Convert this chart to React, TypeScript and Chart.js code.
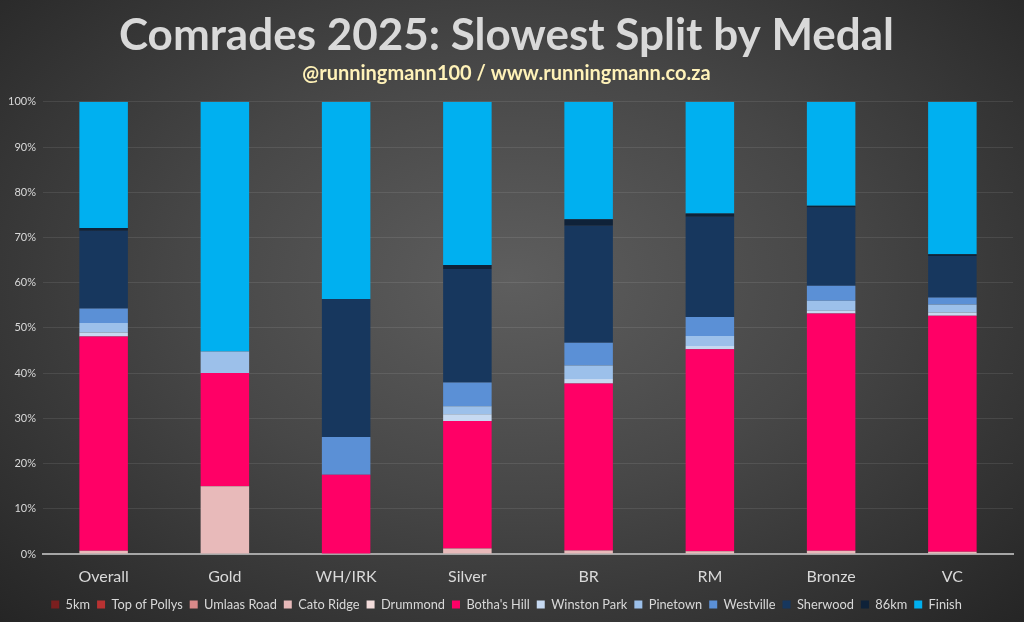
import React, { useEffect, useRef } from 'react';
import Chart, { ChartConfiguration } from 'chart.js/auto';

const categories = ['Overall', 'Gold', 'WH/IRK', 'Silver', 'BR', 'RM', 'Bronze', 'VC'];

const splitNames = [
	'5km',
	'Top of Pollys',
	'Umlaas Road',
	'Cato Ridge',
	'Drummond',
	"Botha's Hill",
	'Winston Park',
	'Pinetown',
	'Westville',
	'Sherwood',
	'86km',
	'Finish',
];

const splitColours = [
	'#7b1f1f',
	'#b83232',
	'#d98a8a',
	'#e8baba',
	'#f2dcdb',
	'#ff0066',
	'#c6d9f1',
	'#9cc0ea',
	'#5b90d6',
	'#17375e',
	'#0f2239',
	'#00b0f0',
];

// share of runners (%) whose slowest split was each section, per medal
const fiveKm = [0, 0, 0, 0, 0, 0, 0, 0];
const topOfPollys = [0, 0, 0, 0, 0, 0, 0, 0];
const umlaasRoad = [0, 0, 0, 0, 0, 0, 0, 0];
const catoRidge = [0.7, 15.0, 0, 1.2, 0.8, 0.6, 0.7, 0.5];
const drummond = [0, 0, 0, 0, 0, 0, 0, 0];
const bothasHill = [47.4, 25.0, 17.5, 28.2, 36.9, 44.7, 52.5, 52.2];
const winstonPark = [0.9, 0, 0, 1.5, 1.0, 0.7, 0.6, 0.7];
const pinetown = [2.1, 4.8, 0, 1.8, 3.0, 2.2, 2.2, 1.8];
const westville = [3.2, 0, 8.4, 5.2, 5.0, 4.2, 3.3, 1.5];
const sherwood = [17.2, 0, 30.5, 25.1, 25.9, 22.2, 17.3, 9.2];
const km86 = [0.6, 0, 0, 0.9, 1.4, 0.7, 0.4, 0.4];
const finish = [27.9, 55.2, 43.6, 36.1, 26.0, 24.7, 23.0, 33.7];

const splitValues = [
	fiveKm,
	topOfPollys,
	umlaasRoad,
	catoRidge,
	drummond,
	bothasHill,
	winstonPark,
	pinetown,
	westville,
	sherwood,
	km86,
	finish,
];

const yTicks = [0, 10, 20, 30, 40, 50, 60, 70, 80, 90, 100];

const FONT = 'Lato, "Open Sans", sans-serif';

const App: React.FC = () => {
	const canvasRef = useRef<HTMLCanvasElement | null>(null);
	const chartRef = useRef<Chart | null>(null);

	useEffect(() => {
		document.body.style.margin = '0';
		const canvas = canvasRef.current;
		if (!canvas) return;
		const ctx = canvas.getContext('2d');
		if (!ctx) return;

		const config: ChartConfiguration<'bar'> = {
			type: 'bar',
			data: {
				labels: categories,
				datasets: splitNames.map((name, i) => ({
					label: name,
					data: splitValues[i],
					backgroundColor: splitColours[i],
					borderWidth: 0,
					categoryPercentage: 1,
					barPercentage: 0.4,
				})),
			},
			options: {
				animation: false,
				responsive: true,
				maintainAspectRatio: false,
				layout: { padding: { left: 0, right: 11, top: 6, bottom: 1 } },
				plugins: {
					title: {
						display: true,
						text: 'Comrades 2025: Slowest Split by Medal',
						color: '#d9d9d9',
						font: { family: FONT, size: 44, weight: 'bold' },
						padding: { top: 3, bottom: 0 },
					},
					subtitle: {
						display: true,
						text: '@runningmann100 / www.runningmann.co.za',
						color: '#fff2b8',
						font: { family: FONT, size: 20, weight: 'bold' },
						padding: { top: 0, bottom: 16 },
					},
					legend: {
						position: 'bottom',
						labels: {
							color: '#d9d9d9',
							font: { family: FONT, size: 12.8 },
							boxWidth: 8,
							boxHeight: 8,
							padding: 7,
						},
					},
					tooltip: { enabled: false },
				},
				scales: {
					x: {
						stacked: true,
						grid: { display: false },
						border: { color: '#a6a6a6', width: 2 },
						ticks: { color: '#d9d9d9', font: { family: FONT, size: 16 }, padding: 5 },
					},
					y: {
						stacked: true,
						min: 0,
						max: 100,
						afterBuildTicks: (scale) => {
							scale.ticks = yTicks.map((v) => ({ value: v }));
						},
						afterFit: (scale) => {
							scale.width = 43;
						},
						grid: { color: 'rgba(255,255,255,0.09)', drawTicks: false },
						border: { display: false },
						ticks: {
							color: '#d9d9d9',
							font: { family: FONT, size: 11 },
							padding: 7,
							callback: (v) => `${v}%`,
						},
					},
				},
			},
		};

		if (chartRef.current) chartRef.current.destroy();
		chartRef.current = new Chart(ctx, config);

		return () => {
			if (chartRef.current) {
				chartRef.current.destroy();
				chartRef.current = null;
			}
		};
	}, []);

	return (
		<div
			style={{
				width: 1024,
				height: 622,
				background: 'radial-gradient(ellipse at 50% 45%, #5e5e5e 0%, #474747 45%, #252525 100%)',
			}}
		>
			<canvas ref={canvasRef} />
		</div>
	);
};

export default App;
